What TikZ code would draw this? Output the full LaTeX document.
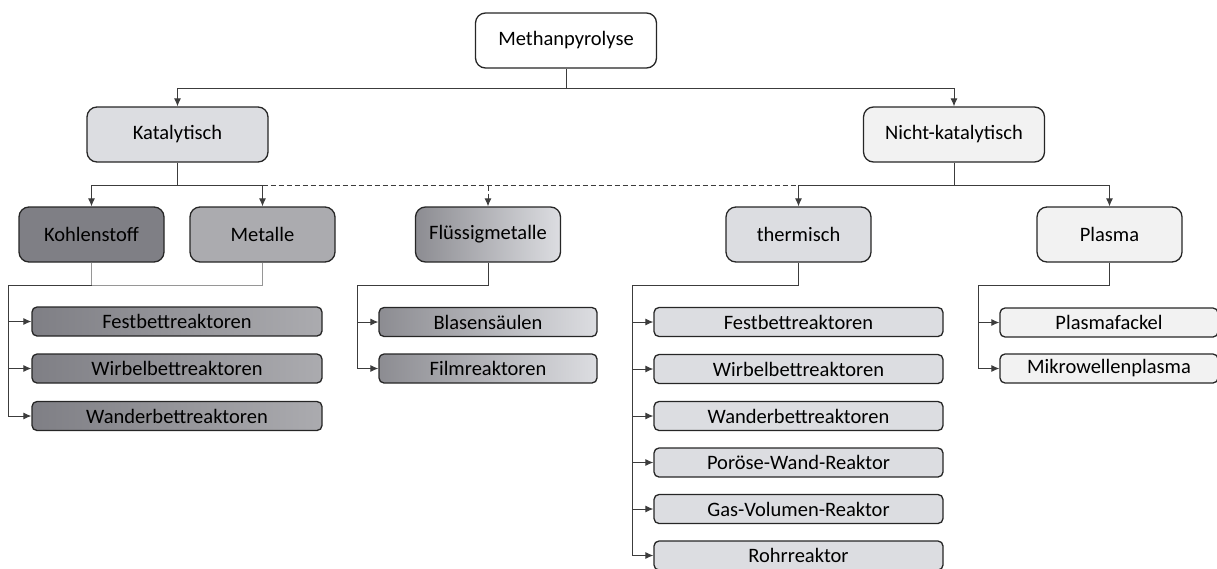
\documentclass[tikz,border=0pt]{standalone}
\usepackage{fontspec}
\setmainfont{Carlito}
\usepackage{tikz}
\usetikzlibrary{arrows.meta, positioning}
\definecolor{boxline}{RGB}{38, 38, 38}
\definecolor{connline}{RGB}{60, 60, 60}
\definecolor{lightline}{RGB}{150, 150, 150}
\definecolor{grayA}{RGB}{127, 127, 133}
\definecolor{grayB}{RGB}{171, 171, 175}
\definecolor{grayC}{RGB}{220, 221, 225}
\definecolor{grayD}{RGB}{242, 242, 242}

\tikzset{
  mainbox/.style={draw=boxline, line width=1.3pt, rounded corners=10pt,
    minimum width=181pt, minimum height=55pt, font=\fontsize{20.5}{24}\selectfont},
  midbox/.style={draw=boxline, line width=1.3pt, rounded corners=10pt,
    minimum width=145pt, minimum height=55pt, font=\fontsize{20.5}{24}\selectfont},
  subbox/.style={draw=boxline, line width=1.3pt, rounded corners=5pt,
    minimum height=29pt, font=\fontsize{20.5}{24}\selectfont},
  conn/.style={draw=connline, line width=1pt},
  arr/.style={conn, -{Latex[length=8pt,width=7pt]}},
  dashline/.style={dash pattern=on 5pt off 3pt},
}

\begin{document}
\begin{tikzpicture}[x=1pt, y=-1pt]
\useasboundingbox (0,0) rectangle (1217,568);

% top level
\node[mainbox, fill=white] (meth) at (566,40.5) {Methanpyrolyse};
\node[mainbox, fill=grayC] (kat) at (177.5,134.5) {Katalytisch};
\node[mainbox, fill=grayD] (nicht) at (954,134.5) {Nicht-katalytisch};

\draw[conn] (meth.south) -- ++(0,20) coordinate (mj);
\draw[arr] (mj) -| (kat.north);
\draw[arr] (mj) -| (nicht.north);

% second level
\node[midbox, fill=grayA] (kohle) at (91.5,234.5) {Kohlenstoff};
\node[midbox, fill=grayB] (metal) at (262.5,234.5) {Metalle};
\node[midbox, left color=grayA!70!grayB, right color=grayC] (fluess) at (488,234.5) {Flüssigmetalle};
\node[midbox, fill=grayC] (therm) at (798.5,234.5) {thermisch};
\node[midbox, fill=grayD] (plasma) at (1109.5,234.5) {Plasma};

\draw[conn] (kat.south) -- ++(0,23) coordinate (kj);
\draw[arr] (kj) -| (kohle.north);
\draw[arr] (kj) -| (metal.north);
\draw[conn, dashline] (kj -| metal.north) -- (kj -| nicht.south);
\draw[arr, dashline] (kj -| fluess.north) -- (fluess.north);

\draw[conn] (nicht.south) -- ++(0,23) coordinate (nj);
\draw[arr] (nj) -| (therm.north);
\draw[arr] (nj) -| (plasma.north);

% Kohlenstoff / Metalle reactors
\node[subbox, minimum width=290pt, left color=grayA, right color=grayB] (kfest) at (177,321.5) {Festbettreaktoren};
\node[subbox, minimum width=290pt, left color=grayA, right color=grayB] (kwirb) at (177,368.5) {Wirbelbettreaktoren};
\node[subbox, minimum width=290pt, left color=grayA, right color=grayB] (kwand) at (177,416) {Wanderbettreaktoren};

\draw[conn, draw=lightline] (kohle.south) -- ++(0,23) coordinate (kbus) -| (metal.south);
\coordinate (kleft) at (8,0);
\draw[conn] (kbus) -- (kbus -| kleft);
\draw[arr] (kbus -| kleft) |- (kfest.west);
\draw[arr] (kbus -| kleft) |- (kwirb.west);
\draw[arr] (kbus -| kleft) |- (kwand.west);

% Fluessigmetalle reactors
\node[subbox, minimum width=218pt, left color=grayA!70!grayB, right color=grayC] (blase) at (488,322) {Blasensäulen};
\node[subbox, minimum width=218pt, left color=grayA!70!grayB, right color=grayC] (film) at (488,368.5) {Filmreaktoren};

\draw[conn] (fluess.south) -- ++(0,23) coordinate (fbus);
\coordinate (fleft) at (357,0);
\draw[conn] (fbus) -- (fbus -| fleft);
\draw[arr] (fbus -| fleft) |- (blase.west);
\draw[arr] (fbus -| fleft) |- (film.west);

% thermische reactors
\node[subbox, minimum width=289pt, fill=grayC] (tfest) at (798.5,322) {Festbettreaktoren};
\node[subbox, minimum width=289pt, fill=grayC] (twirb) at (798.5,369) {Wirbelbettreaktoren};
\node[subbox, minimum width=289pt, fill=grayC] (twand) at (798.5,416) {Wanderbettreaktoren};
\node[subbox, minimum width=289pt, fill=grayC] (tporo) at (798.5,462.5) {Poröse-Wand-Reaktor};
\node[subbox, minimum width=289pt, fill=grayC] (tgas) at (798.5,509) {Gas-Volumen-Reaktor};
\node[subbox, minimum width=289pt, fill=grayC] (trohr) at (798.5,555.5) {Rohrreaktor};

\draw[conn] (therm.south) -- ++(0,23) coordinate (tbus);
\coordinate (tleft) at (632,0);
\draw[conn] (tbus) -- (tbus -| tleft);
\draw[arr] (tbus -| tleft) |- (tfest.west);
\draw[arr] (tbus -| tleft) |- (twirb.west);
\draw[arr] (tbus -| tleft) |- (twand.west);
\draw[arr] (tbus -| tleft) |- (tporo.west);
\draw[arr] (tbus -| tleft) |- (tgas.west);
\draw[arr] (tbus -| tleft) |- (trohr.west);

% Plasma reactors
\node[subbox, minimum width=218pt, fill=grayD] (pfack) at (1109,322.5) {Plasmafackel};
\node[subbox, minimum width=218pt, fill=grayD] (pmikro) at (1109,368.5) {Mikrowellenplasma};

\draw[conn] (plasma.south) -- ++(0,23) coordinate (pbus);
\coordinate (pleft) at (978,0);
\draw[conn] (pbus) -- (pbus -| pleft);
\draw[arr] (pbus -| pleft) |- (pfack.west);
\draw[arr] (pbus -| pleft) |- (pmikro.west);
\end{tikzpicture}
\end{document}
